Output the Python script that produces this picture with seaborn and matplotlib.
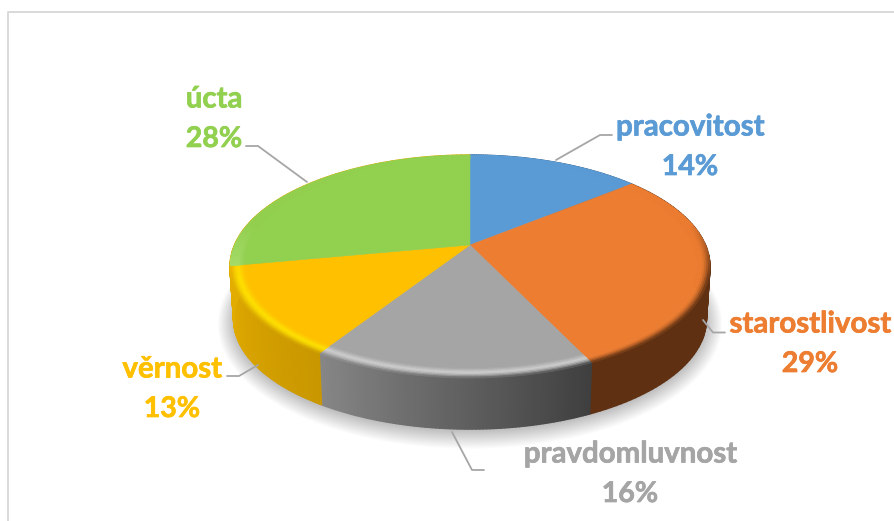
import numpy as np
import matplotlib
matplotlib.use('Agg')
import matplotlib.pyplot as plt
import matplotlib.patheffects as pe
from matplotlib.collections import PolyCollection
from matplotlib.colors import to_rgb
import seaborn as sns

# data
categories = ['pracovitost', 'starostlivost', 'pravdomluvnost', 'věrnost', 'úcta']
shares = [14, 29, 16, 13, 28]

# styles
face_colors = ['#5B9BD5', '#ED7D31', '#A5A5A5', '#FFC000', '#92D050']
rim_colors = ['#5B9BD5', '#ED7D31', '#CDCDCD', '#FFE000', '#A8E070']
side_start = ['#3C6A94', '#5F3112', '#3F3F3F', '#C99700', '#E3AC00']
side_end = ['#3C6A94', '#5F3112', '#868686', '#E3AC00', '#E3AC00']
rim_edge = ['#3C6A94', '#5F3112', None, None, '#A8E070']
label_pos = [(690, 127.5), (810, 324.5), (630, 454.5), (172, 369.5), (214, 99.5)]
leaders = [
    [(612, 135), (600, 135), (556, 160)],
    [(725, 332.5), (713, 332.5), (703, 320)],
    [(484, 470), (472, 470), (452, 432)],
    [(227, 376), (239, 376), (258, 365)],
    [(246, 146), (258, 146), (307, 182)],
]

sns.set_theme(style='white')
plt.rcParams['font.family'] = ['Lato', 'DejaVu Sans']

fig = plt.figure(figsize=(8.94, 5.21), dpi=100)
ax = fig.add_axes([0, 0, 1, 1])
ax.set_xlim(0, 894)
ax.set_ylim(521, 0)
ax.axis('off')

# apex of the pie and perspective of the disc
cx, cy = 470, 245
b, a, k = 235.5, 107.4, 0.193
depth = 52


def project(theta, r=1.0, bottom=False):
    u, v = r * np.sin(theta), r * np.cos(theta)
    d = 1 + k * v
    x, y = b * u / d, -a * v / d
    if bottom:
        return cx + x * 0.985, cy + y * 0.985 + depth + 1
    return cx + x, cy + y


def quad_strip(t0, t1, r0, r1):
    x0, y0 = project(t0, r0)
    x1, y1 = project(t1, r0)
    x2, y2 = project(t1, r1)
    x3, y3 = project(t0, r1)
    return [(x0, y0), (x1, y1), (x2, y2), (x3, y3)]


# chart frame, only top and left edges are visible
ax.plot([8, 8, 894], [521, 12, 12], color='#D9D9D9', lw=1.4, solid_capstyle='butt')

# soft shadow under the disc
full = np.linspace(0, 2 * np.pi, 361)
for grow in np.linspace(16, 0, 16):
    sx, sy = project(full, 1.0, bottom=True)
    sx = cx + (sx - cx) * (1 + grow / 240)
    sy = cy + depth + (sy - cy - depth) * (1 + grow / 120) + 2
    ax.fill(sx, sy, color='black', alpha=0.015, lw=0, zorder=1)

fractions = np.cumsum([0] + shares) / sum(shares)
edges = 2 * np.pi * fractions

# side wall
for i in range(len(shares)):
    ts = np.linspace(edges[i], edges[i + 1], 80)
    pal = sns.blend_palette([side_start[i], side_end[i]], len(ts) - 1)
    polys = []
    for t0, t1 in zip(ts[:-1], ts[1:]):
        tx0, ty0 = project(t0)
        tx1, ty1 = project(t1)
        bx1, by1 = project(t1, bottom=True)
        bx0, by0 = project(t0, bottom=True)
        polys.append([(tx0, ty0), (tx1, ty1), (bx1, by1), (bx0, by0)])
    ax.add_collection(PolyCollection(polys, facecolors=pal, edgecolors=pal, linewidths=1.0, zorder=2))

# top face and bevelled rim
rim_r = np.linspace(0.94, 1.0, 9)
for i in range(len(shares)):
    ts = np.linspace(edges[i], edges[i + 1], 80)
    xs, ys = project(ts, 0.945)
    ax.fill(np.r_[cx, xs], np.r_[cy, ys], color=face_colors[i], lw=0.3, zorder=3)

    face = np.array(to_rgb(face_colors[i]))
    rim = np.array(to_rgb(rim_colors[i]))
    polys, cols = [], []
    for j, (t0, t1) in enumerate(zip(ts[:-1], ts[1:])):
        tm = (t0 + t1) / 2
        g = j / (len(ts) - 2)
        side = (1 - g) * np.array(to_rgb(side_start[i])) + g * np.array(to_rgb(side_end[i]))
        if rim_edge[i] is not None:
            side = np.array(to_rgb(rim_edge[i]))
        front = np.clip((0.2 - np.cos(tm)) / 0.5, 0, 1)
        for r0, r1 in zip(rim_r[:-1], rim_r[1:]):
            s = (r0 + r1 - 2 * rim_r[0]) / (2 * (rim_r[-1] - rim_r[0]))
            if s < 0.45:
                c = face + (rim - face) * s / 0.45
            else:
                c = rim + (side - rim) * ((s - 0.45) / 0.55) ** 1.5
            c = face + (c - face) * front
            polys.append(quad_strip(t0, t1, r0, r1))
            cols.append(tuple(c))
    ax.add_collection(PolyCollection(polys, facecolors=cols, edgecolors=cols, linewidths=0.5, zorder=4))

# leader lines and labels
for pts in leaders:
    lx, ly = zip(*pts)
    ax.plot(lx, ly, color='#A6A6A6', lw=1.3, zorder=5)

for name, val, (lx, ly), col in zip(categories, shares, label_pos, face_colors):
    stroke = [pe.withStroke(linewidth=0.5, foreground=col)]
    ax.text(lx, ly, name, color=col, fontsize=21.2, fontweight='bold', ha='center', va='center',
            zorder=6, path_effects=stroke)
    ax.text(lx, ly + 39.5, f'{val}%', color=col, fontsize=20.5, fontweight='bold', ha='center', va='center',
            zorder=6, path_effects=stroke)

fig.savefig('out.png', dpi=100)
plt.close(fig)
